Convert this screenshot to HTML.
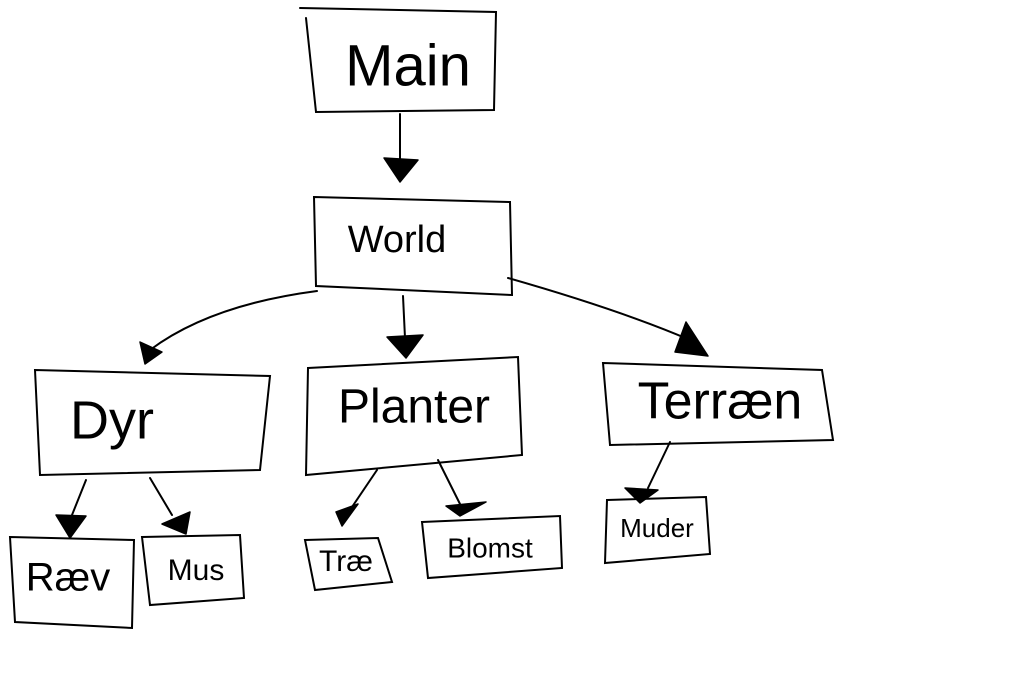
<!DOCTYPE html>
<html><head><meta charset="utf-8"><style>
html,body{margin:0;padding:0;background:#fff;width:1017px;height:687px;overflow:hidden}
svg{display:block}
text{font-family:"Liberation Sans",sans-serif;fill:#000;text-anchor:middle;dominant-baseline:middle}
</style></head><body>
<svg width="1017" height="687" viewBox="0 0 1017 687" fill="none" stroke="#000" stroke-width="2" stroke-linecap="round">
<!-- boxes -->
<path d="M300 8 L496 12 L494 110 L316 112 L306 18"/>
<path d="M314 197 L510 202 L512 295 L316 286 Z"/>
<path d="M35 370 L270 376 L260 470 L40 475 Z"/>
<path d="M308 368 L518 357 L522 455 L306 475 Z"/>
<path d="M603 363 L822 370 L833 440 L610 445 Z"/>
<path d="M10 537 L134 540 L132 628 L15 622 Z"/>
<path d="M142 537 L240 535 L244 598 L150 605 Z"/>
<path d="M305 540 L378 538 L392 582 L315 590 Z"/>
<path d="M422 522 L560 516 L562 568 L428 578 Z"/>
<path d="M607 500 L706 497 L710 554 L605 563 Z"/>
<!-- labels -->
<g stroke="none">
<text x="408" y="70" font-size="58">Main</text>
<text x="397" y="242" font-size="38">World</text>
<text x="112" y="424" font-size="54">Dyr</text>
<text x="414" y="410" font-size="48">Planter</text>
<text x="720" y="405" font-size="52">Terræn</text>
<text x="68" y="580" font-size="40">Ræv</text>
<text x="196" y="572" font-size="30">Mus</text>
<text x="346" y="563" font-size="30">Træ</text>
<text x="490" y="550" font-size="28">Blomst</text>
<text x="657" y="530" font-size="26">Muder</text>
</g>
<!-- connectors -->
<path d="M400 114 L400 160"/>
<path d="M317 291 Q210 305 150 350"/>
<path d="M403 296 L405 338"/>
<path d="M508 278 Q620 310 690 340"/>
<path d="M86 480 L72 515"/>
<path d="M150 478 L172 515"/>
<path d="M377 470 L350 510"/>
<path d="M438 460 L460 504"/>
<path d="M670 442 L648 488"/>
<!-- arrowheads -->
<g fill="#000" stroke="#000" stroke-width="1.5" stroke-linejoin="round">
<polygon points="384,158 418,160 400,182"/>
<polygon points="140,342 162,352 145,364"/>
<polygon points="387,337 423,335 406,358"/>
<polygon points="686,322 708,356 675,352"/>
<polygon points="56,515 86,516 70,538"/>
<polygon points="162,524 190,512 186,534"/>
<polygon points="336,512 358,504 342,526"/>
<polygon points="446,506 486,502 460,516"/>
<polygon points="625,488 658,490 640,503"/>
</g>
</svg>
</body></html>
